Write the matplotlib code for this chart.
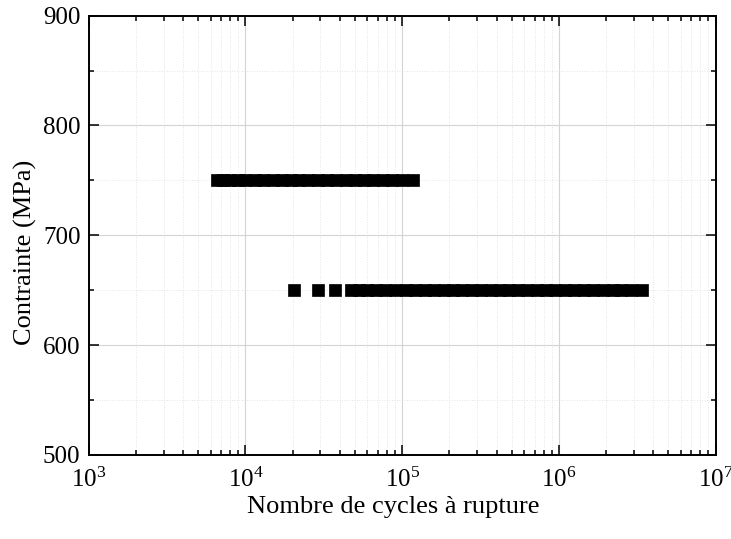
import matplotlib
matplotlib.use("Agg")
import matplotlib.pyplot as plt
from matplotlib.ticker import LogLocator, MultipleLocator, NullFormatter

plt.rcParams["font.family"] = ["Liberation Serif", "DejaVu Serif"]
plt.rcParams["mathtext.fontset"] = "custom"
plt.rcParams["mathtext.rm"] = "Liberation Serif"
plt.rcParams["mathtext.it"] = "Liberation Serif:italic"

# cycles to failure
cycles_750 = [6600, 7200, 8000, 9000, 10000, 11500, 13000, 15000, 17000, 19500,
              22000, 25000, 29000, 33000, 38000, 44000, 50000, 57000, 65000,
              75000, 86000, 100000, 118000]
stress_750 = [750] * len(cycles_750)

cycles_650 = [20300, 28900, 37500, 47000, 53000, 60000, 68000, 78000, 90000,
              105000, 120000, 140000, 160000, 185000, 210000, 240000, 280000,
              320000, 370000, 420000, 480000, 550000, 630000, 720000, 830000,
              950000, 1100000, 1250000, 1450000, 1650000, 1900000, 2200000,
              2500000, 2900000, 3390000]
stress_650 = [650] * len(cycles_650)

fig = plt.figure(figsize=(7.31, 5.39), dpi=100)
ax = fig.add_axes([0.1214, 0.156, 0.8576, 0.815])

for x, y in [(cycles_750, stress_750), (cycles_650, stress_650)]:
    ax.plot(x, y, linestyle="none", marker="s", markersize=8.6,
            color="black", markeredgecolor="black", markeredgewidth=0.5,
            zorder=3)

ax.set_xscale("log")
ax.set_xlim(1e3, 1e7)
ax.set_ylim(500, 900)
ax.xaxis.set_major_locator(LogLocator(base=10, numticks=10))
ax.xaxis.set_minor_locator(LogLocator(base=10, subs=range(2, 10), numticks=20))
ax.xaxis.set_minor_formatter(NullFormatter())
ax.yaxis.set_major_locator(MultipleLocator(100))
ax.yaxis.set_minor_locator(MultipleLocator(50))

ax.grid(which="major", color="#d4d4d4", linewidth=0.8, linestyle="-")
ax.grid(which="minor", color="#dcdcdc", linewidth=0.6, linestyle=(0, (1, 2)))
ax.set_axisbelow(True)

ax.tick_params(which="both", direction="in", top=True, right=True,
               width=1.1, labelsize=18)
ax.tick_params(which="major", length=7)
ax.tick_params(which="minor", length=3.8)
ax.tick_params(axis="x", which="major", pad=9)
ax.tick_params(axis="y", which="major", pad=6)
for s in ax.spines.values():
    s.set_linewidth(1.4)

ax.set_xlabel("Nombre de cycles à rupture", fontsize=19)
ax.set_ylabel("Contrainte (MPa)", fontsize=19)
ax.xaxis.set_label_coords(0.485, -0.093)
ax.yaxis.set_label_coords(-0.082, 0.461)

fig.savefig("out.png", dpi=100)
